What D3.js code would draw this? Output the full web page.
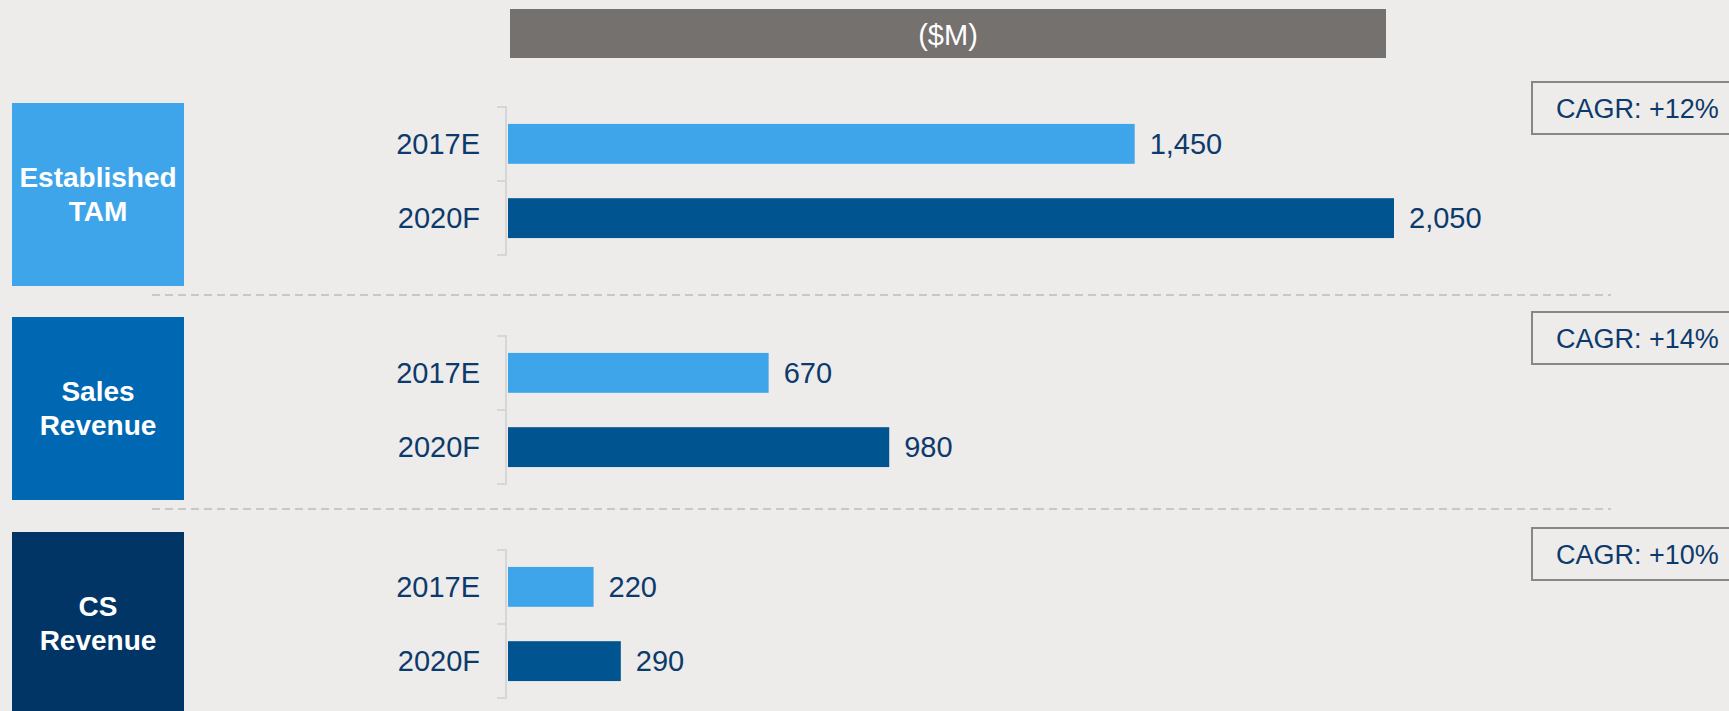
<!DOCTYPE html>
<html>
<head>
<meta charset="utf-8">
<script src="https://cdn.jsdelivr.net/npm/d3@7"></script>
<style>
  html, body { margin: 0; padding: 0; background: #edecea; overflow: hidden; }
  svg { display: block; font-family: "Liberation Sans", Arial, sans-serif; }
</style>
</head>
<body>
<svg id="chart" width="1729" height="711"></svg>
<script>
// Segment names (one line of text per entry)
const segmentLines = [["Established", "TAM"], ["Sales", "Revenue"], ["CS", "Revenue"]];
// Period labels
const periods = ["2017E", "2020F"];
// Values in $M
const values2017E = [1450, 670, 220];
const values2020F = [2050, 980, 290];
// Growth labels
const cagrLabels = ["+12%", "+14%", "+10%"];
const unitLabel = "($M)";

const W = 1729, H = 711;
const svg = d3.select("#chart");

const colors = {
  bg: "#edecea",
  header: "#75716f",
  light: "#3fa5ea",
  dark: "#00548f",
  segBoxes: ["#3fa5ea", "#0067b3", "#003566"],
  text: "#0d3a6c",
  bracket: "#d6d6d6",
  divider: "#c8c8c8",
  cagrBorder: "#878787"
};

svg.append("rect").attr("width", W).attr("height", H).attr("fill", colors.bg);

// Unit header band
svg.append("rect").attr("x", 510).attr("y", 9).attr("width", 876).attr("height", 49)
  .attr("fill", colors.header);
svg.append("text").attr("x", 948).attr("y", 45).attr("text-anchor", "middle")
  .attr("fill", "#ffffff").attr("font-size", 29).text(unitLabel);

// Layout per segment
const boxTops = [103, 317, 532];
const groupTops = [107, 336, 550];
const groupH = 148;
const barX0 = 508;

// The TAM panel and the revenue panels use their own horizontal scales
const xScales = [
  d3.scaleLinear().domain([0, 2050]).range([barX0, barX0 + 886]),
  d3.scaleLinear().domain([0, 1000]).range([barX0, barX0 + 389]),
  d3.scaleLinear().domain([0, 1000]).range([barX0, barX0 + 389])
];

const rows = segmentLines.map((lines, i) => ({
  lines, i,
  vals: [values2017E[i], values2020F[i]],
  cagr: cagrLabels[i]
}));

rows.forEach(r => {
  const g = svg.append("g");
  const x = xScales[r.i];
  const top = groupTops[r.i];
  const y = d3.scaleBand().domain(periods).range([top, top + groupH])
    .paddingInner(0.463).paddingOuter(0.228);

  // Segment box
  g.append("rect").attr("x", 12).attr("y", boxTops[r.i]).attr("width", 172)
    .attr("height", 183).attr("fill", colors.segBoxes[r.i]);
  const baseY = boxTops[r.i] + 84;
  r.lines.forEach((t, k) => {
    g.append("text").attr("x", 98).attr("y", baseY + k * 34)
      .attr("text-anchor", "middle").attr("fill", "#ffffff")
      .attr("font-size", 28).attr("font-weight", "bold").text(t);
  });

  // Bracket along the category axis
  const bx = 506;
  const mid = top + groupH / 2;
  g.append("path")
    .attr("d", `M${bx - 9},${top} H${bx} V${top + groupH} H${bx - 9} M${bx - 9},${mid} H${bx}`)
    .attr("fill", "none").attr("stroke", colors.bracket).attr("stroke-width", 2);

  // Bars
  periods.forEach((p, k) => {
    const v = r.vals[k];
    const yy = y(p);
    const bh = y.bandwidth();
    g.append("rect").attr("x", x(0)).attr("y", yy)
      .attr("width", x(v) - x(0)).attr("height", bh)
      .attr("fill", k === 0 ? colors.light : colors.dark);
    g.append("text").attr("x", 480).attr("y", yy + bh / 2 + 10)
      .attr("text-anchor", "end").attr("fill", colors.text)
      .attr("font-size", 29).text(p);
    g.append("text").attr("x", x(v) + 15).attr("y", yy + bh / 2 + 10)
      .attr("fill", colors.text).attr("font-size", 29).text(d3.format(",")(v));
  });

  // CAGR box
  const cTops = [82, 312, 528];
  g.append("rect").attr("x", 1532).attr("y", cTops[r.i]).attr("width", 220)
    .attr("height", 52).attr("fill", colors.bg)
    .attr("stroke", colors.cagrBorder).attr("stroke-width", 2);
  g.append("text").attr("x", 1556).attr("y", cTops[r.i] + 36)
    .attr("fill", colors.text).attr("font-size", 27).text("CAGR: " + r.cagr);
});

// Dashed dividers between segments
[295, 509].forEach(yv => {
  svg.append("line").attr("x1", 152).attr("x2", 1611).attr("y1", yv).attr("y2", yv)
    .attr("stroke", colors.divider).attr("stroke-width", 2)
    .attr("stroke-dasharray", "8,5");
});
</script>
</body>
</html>
